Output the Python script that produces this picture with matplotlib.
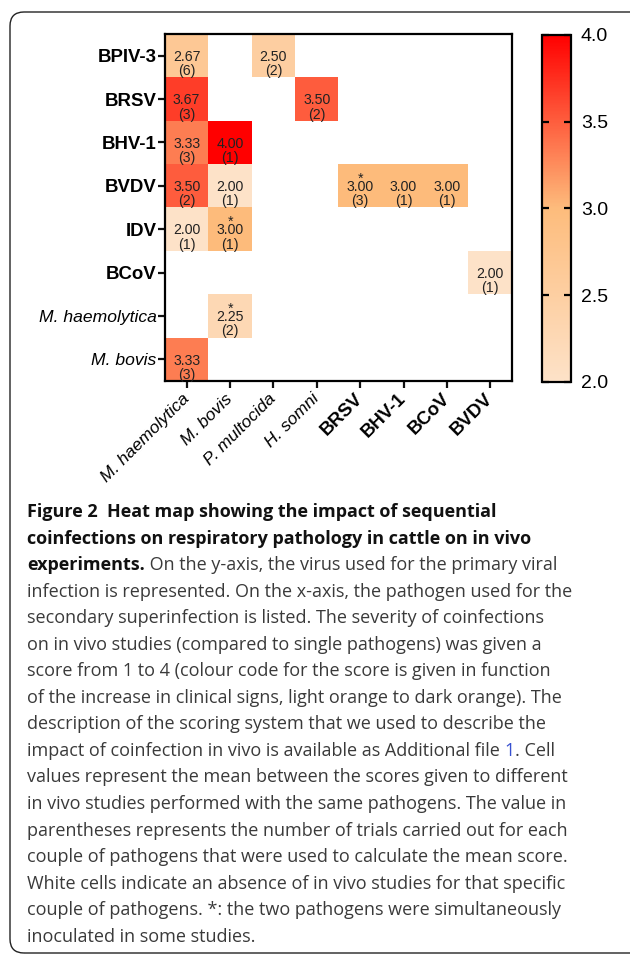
import numpy as np
import matplotlib
matplotlib.use('Agg')
import matplotlib.pyplot as plt
from matplotlib.colors import LinearSegmentedColormap
from matplotlib.patches import FancyBboxPatch

# datos de la figura
filas = ['BPIV-3', 'BRSV', 'BHV-1', 'BVDV', 'IDV', 'BCoV', 'M. haemolytica', 'M. bovis']
columnas = ['M. haemolytica', 'M. bovis', 'P. multocida', 'H. somni', 'BRSV', 'BHV-1', 'BCoV', 'BVDV']
bacterias = ['M. haemolytica', 'M. bovis', 'P. multocida', 'H. somni']
nan = np.nan
valores = [
    [2.67, nan, 2.50, nan, nan, nan, nan, nan],
    [3.67, nan, nan, 3.50, nan, nan, nan, nan],
    [3.33, 4.00, nan, nan, nan, nan, nan, nan],
    [3.50, 2.00, nan, nan, 3.00, 3.00, 3.00, nan],
    [2.00, 3.00, nan, nan, nan, nan, nan, nan],
    [nan, nan, nan, nan, nan, nan, nan, 2.00],
    [nan, 2.25, nan, nan, nan, nan, nan, nan],
    [3.33, nan, nan, nan, nan, nan, nan, nan],
]
ensayos = [
    [6, 0, 2, 0, 0, 0, 0, 0],
    [3, 0, 0, 2, 0, 0, 0, 0],
    [3, 1, 0, 0, 0, 0, 0, 0],
    [2, 1, 0, 0, 3, 1, 1, 0],
    [1, 1, 0, 0, 0, 0, 0, 0],
    [0, 0, 0, 0, 0, 0, 0, 1],
    [0, 2, 0, 0, 0, 0, 0, 0],
    [3, 0, 0, 0, 0, 0, 0, 0],
]
simultaneos = [(3, 4), (4, 1), (6, 1)]
ticks_barra = [2.0, 2.5, 3.0, 3.5, 4.0]

leyenda = [
    [('Figure 2  Heat map showing the impact of sequential', 'b')],
    [('coinfections on respiratory pathology in cattle on in vivo', 'b')],
    [('experiments.', 'b'), (' On the y-axis, the virus used for the primary viral', 'n')],
    [('infection is represented. On the x-axis, the pathogen used for the', 'n')],
    [('secondary superinfection is listed. The severity of coinfections', 'n')],
    [('on in vivo studies (compared to single pathogens) was given a', 'n')],
    [('score from 1 to 4 (colour code for the score is given in function', 'n')],
    [('of the increase in clinical signs, light orange to dark orange). The', 'n')],
    [('description of the scoring system that we used to describe the', 'n')],
    [('impact of coinfection in vivo is available as Additional file ', 'n'), ('1', 'azul'), ('. Cell', 'n')],
    [('values represent the mean between the scores given to different', 'n')],
    [('in vivo studies performed with the same pathogens. The value in', 'n')],
    [('parentheses represents the number of trials carried out for each', 'n')],
    [('couple of pathogens that were used to calculate the mean score.', 'n')],
    [('White cells indicate an absence of in vivo studies for that specific', 'n')],
    [('couple of pathogens. *: the two pathogens were simultaneously', 'n')],
    [('inoculated in some studies.', 'n')],
]

Z = np.ma.masked_invalid(np.array(valores))
cmap = LinearSegmentedColormap.from_list('naranja', ['#FDE2C8', '#FDBC7C', '#FF0000'])
cmap.set_bad('white')

W, H = 630, 958
fig = plt.figure(figsize=(W / 100, H / 100), dpi=100)
fig.patch.set_facecolor('white')

# marco redondeado
marco = FancyBboxPatch((0.10, 0.05), 6.5, 9.41, boxstyle='round,pad=0,rounding_size=0.14',
                       transform=fig.dpi_scale_trans, fill=False, edgecolor='#222222',
                       linewidth=1.0)
fig.patches.append(marco)

ax = fig.add_axes([165 / W, 1 - 381 / H, 347 / W, 347 / H])
im = ax.imshow(Z, cmap=cmap, vmin=2, vmax=4, aspect='auto', interpolation='nearest')
for s in ax.spines.values():
    s.set_linewidth(1.6)

# textos de las celdas (el * va en el mismo texto que el valor)
for i in range(len(filas)):
    for j in range(len(columnas)):
        if np.isnan(valores[i][j]):
            continue
        txt = '%.2f' % valores[i][j]
        if (i, j) in simultaneos:
            txt = '*\n' + txt
        ax.text(j, i + 0.19, txt, ha='center', va='bottom', multialignment='center',
                linespacing=0.5, fontsize=10.2, family='Liberation Sans', color='#222222')
        ax.text(j, i + 0.45, '(%d)' % ensayos[i][j], ha='center', va='baseline',
                fontsize=10.2, family='Liberation Sans', color='#222222')

ax.set_xticks(range(len(columnas)))
ax.set_yticks(range(len(filas)))
ax.set_xticklabels(columnas, rotation=45, ha='right', va='center', rotation_mode='anchor')
ax.set_yticklabels(filas)
ax.tick_params(axis='both', length=5, width=1.6, color='#111111', pad=1)
ax.tick_params(axis='x', pad=6)
for lab in ax.get_xticklabels() + ax.get_yticklabels():
    lab.set_family('Liberation Sans')
    if lab.get_text() in bacterias:
        lab.set_style('italic')
        lab.set_fontsize(12.6)
    else:
        lab.set_weight('bold')
        lab.set_fontsize(13.4)

# barra de color
cax = fig.add_axes([542 / W, 1 - 382 / H, 29 / W, 347 / H])
cb = fig.colorbar(im, cax=cax, ticks=ticks_barra)
cb.outline.set_linewidth(1.6)
cb.ax.set_yticklabels(['%.1f' % t for t in ticks_barra])
cb.ax.tick_params(direction='in', length=5, width=1.6, left=True, right=True, pad=7)
for lab in cb.ax.get_yticklabels():
    lab.set_family('Liberation Sans')
    lab.set_fontsize(14)

# leyenda (caption)
r = fig.canvas.get_renderer()
estilos = {
    'b': dict(weight='bold', color='#111111'),
    'n': dict(weight='normal', color='#3a3a3a'),
    'azul': dict(weight='normal', color='#3750d0'),
}
for k, linea in enumerate(leyenda):
    y = 1 - (517 + 26.55 * k) / H
    x = 27 / W
    for texto, est in linea:
        t = fig.text(x, y, texto, ha='left', va='baseline', fontsize=13.0,
                     family='Open Sans', **estilos[est])
        bb = t.get_window_extent(renderer=r)
        x = bb.x1 / W

fig.savefig('out.png', dpi=100)
